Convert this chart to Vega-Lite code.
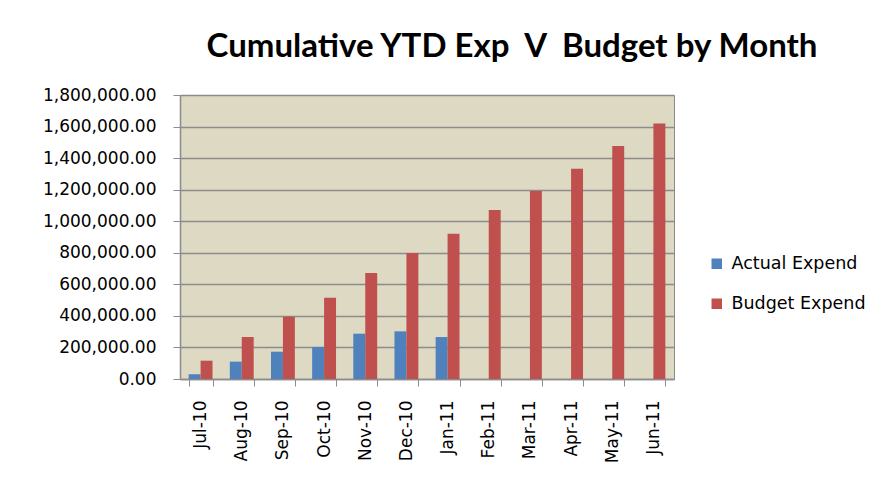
{
  "$schema": "https://vega.github.io/schema/vega-lite/v6.json",
  "autosize": {"type": "none"},
  "padding": {"left": 180, "top": 95, "right": 214, "bottom": 116},
  "width": 494,
  "height": 284,
  "background": "white",
  "title": {
    "text": "Cumulative YTD Exp\u00a0\u00a0V\u00a0\u00a0Budget by Month",
    "font": "Lato",
    "fontSize": 33,
    "fontWeight": "bold",
    "color": "#000000",
    "anchor": "middle",
    "dx": 85,
    "offset": 22
  },
  "data": {
    "values": [
      {"month": "Jul-10", "series": "Actual Expend", "value": 30000},
      {"month": "Jul-10", "series": "Budget Expend", "value": 116000},
      {"month": "Aug-10", "series": "Actual Expend", "value": 110000},
      {"month": "Aug-10", "series": "Budget Expend", "value": 266000},
      {"month": "Sep-10", "series": "Actual Expend", "value": 173000},
      {"month": "Sep-10", "series": "Budget Expend", "value": 395000},
      {"month": "Oct-10", "series": "Actual Expend", "value": 203000},
      {"month": "Oct-10", "series": "Budget Expend", "value": 515000},
      {"month": "Nov-10", "series": "Actual Expend", "value": 287000},
      {"month": "Nov-10", "series": "Budget Expend", "value": 672000},
      {"month": "Dec-10", "series": "Actual Expend", "value": 302000},
      {"month": "Dec-10", "series": "Budget Expend", "value": 799000},
      {"month": "Jan-11", "series": "Actual Expend", "value": 266000},
      {"month": "Jan-11", "series": "Budget Expend", "value": 921000},
      {"month": "Feb-11", "series": "Budget Expend", "value": 1071000},
      {"month": "Mar-11", "series": "Budget Expend", "value": 1192000},
      {"month": "Apr-11", "series": "Budget Expend", "value": 1333000},
      {"month": "May-11", "series": "Budget Expend", "value": 1477000},
      {"month": "Jun-11", "series": "Budget Expend", "value": 1620000}
    ]
  },
  "mark": {"type": "bar", "stroke": null},
  "encoding": {
    "x": {
      "field": "month",
      "type": "nominal",
      "sort": ["Jul-10","Aug-10","Sep-10","Oct-10","Nov-10","Dec-10","Jan-11","Feb-11","Mar-11","Apr-11","May-11","Jun-11"],
      "scale": {"paddingInner": 0.42, "paddingOuter": 0.21},
      "axis": {
        "title": null,
        "labelAngle": -90,
        "labelFont": "DejaVu Sans",
        "labelFontSize": 17,
        "labelColor": "#000000",
        "labelPadding": 14,
        "tickBand": "extent",
        "tickSize": 7,
        "tickColor": "#8c8c8c",
        "domainColor": "#8c8c8c",
        "domainWidth": 1.5,
        "grid": false
      }
    },
    "xOffset": {
      "field": "series",
      "type": "nominal",
      "scale": {"domain": ["Actual Expend", "Budget Expend"], "paddingInner": 0, "paddingOuter": 0}
    },
    "y": {
      "field": "value",
      "type": "quantitative",
      "scale": {"domain": [0, 1800000], "nice": false},
      "axis": {
        "title": null,
        "format": ",.2f",
        "values": [0,200000,400000,600000,800000,1000000,1200000,1400000,1600000,1800000],
        "labelFont": "DejaVu Sans",
        "labelFontSize": 17,
        "labelColor": "#000000",
        "labelPadding": 17,
        "tickSize": 7,
        "tickColor": "#8c8c8c",
        "domainColor": "#8c8c8c",
        "domainWidth": 1.5,
        "grid": true,
        "gridColor": "#8c8c8c",
        "gridWidth": 1.5
      }
    },
    "color": {
      "field": "series",
      "type": "nominal",
      "scale": {"domain": ["Actual Expend", "Budget Expend"], "range": ["#4F81BD", "#C0504D"]},
      "legend": {
        "title": null,
        "orient": "none",
        "legendX": 528,
        "legendY": 160,
        "symbolType": "square",
        "symbolSize": 110,
        "symbolStrokeWidth": 0,
        "labelFont": "DejaVu Sans",
        "labelFontSize": 17.5,
        "labelColor": "#000000",
        "rowPadding": 21,
        "labelOffset": 6
      }
    }
  },
  "config": {
    "view": {"fill": "#DDD9C3", "stroke": "#8c8c8c", "strokeWidth": 1}
  }
}
